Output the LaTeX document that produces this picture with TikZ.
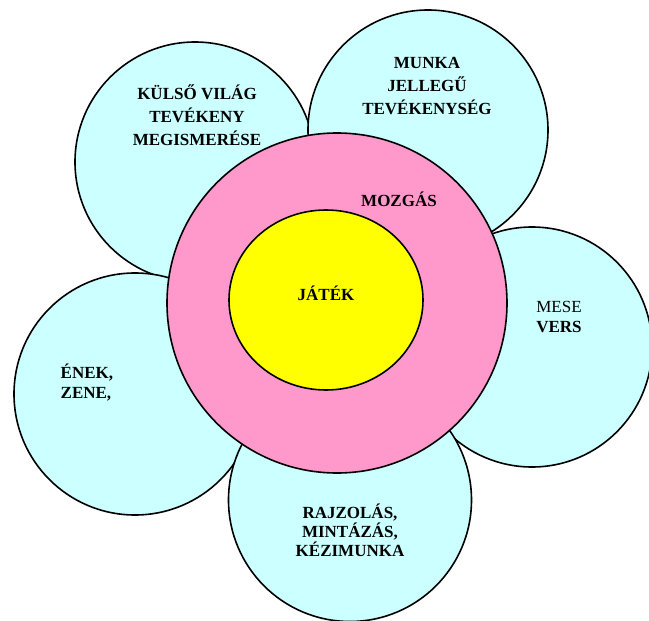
\documentclass[tikz,border=0pt]{standalone}
\usepackage{fontspec}
\setmainfont{Liberation Serif}
\usetikzlibrary{shapes.geometric}
\definecolor{petal}{HTML}{CCFFFF}
\definecolor{ring}{HTML}{FF99CC}
\definecolor{core}{HTML}{FFFF00}
\begin{document}
\begin{tikzpicture}[x=1pt,y=-1pt,
  petalc/.style={circle,draw=black,line width=1.6pt,fill=petal,minimum size=#1,inner sep=0pt},
  lbl/.style={font=\bfseries\fontsize{17}{23}\selectfont,align=center,anchor=base,inner sep=0pt},
]
\useasboundingbox (0,0) rectangle (649,621);
\clip (0,0) rectangle (649,621);
\node[petalc=240pt] (ptl) at (195,162) {};
\node[petalc=240pt] (ptr) at (428,130) {};
\node[petalc=240pt] (pr) at (532,347) {};
\node[petalc=242pt] (pl) at (135,394) {};
\node[petalc=243pt] (pb) at (350,500) {};
\node[circle,draw=black,line width=1.6pt,fill=ring,minimum size=340pt,inner sep=0pt] (mozg) at (337,303) {};
\node[ellipse,draw=black,line width=1.6pt,fill=core,minimum width=194pt,minimum height=180pt,inner sep=0pt] (jat) at (326,300) {};
\node[lbl] (t1) at (197,145) {KÜLSŐ VILÁG\\TEVÉKENY\\MEGISMERÉSE};
\node[lbl] (t2) at (427,114) {MUNKA\\JELLEGŰ\\TEVÉKENYSÉG};
\node[lbl] (t3) at (399,206) {MOZGÁS};
\node[lbl] (t4) at (326,300) {JÁTÉK};
\node[lbl,font=\fontsize{17}{20}\selectfont] (t5) at (559,332) {MESE\\\textbf{VERS}};
\node[lbl,align=left,anchor=base west,font=\bfseries\fontsize{17}{20}\selectfont] (t6) at (60.5,398) {ÉNEK,\\ZENE,};
\node[lbl,font=\bfseries\fontsize{17}{19}\selectfont] (t7) at (350,556) {RAJZOLÁS,\\MINTÁZÁS,\\KÉZIMUNKA};
\end{tikzpicture}
\end{document}
